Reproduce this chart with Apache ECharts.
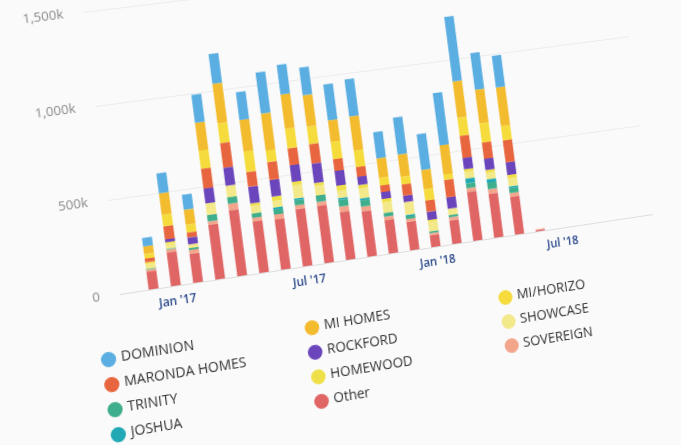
<!DOCTYPE html>
<html>
<head>
<meta charset="utf-8">
<title>Builder volume</title>
<script src="https://cdn.jsdelivr.net/npm/echarts@6/dist/echarts.min.js"></script>
<style>
  html, body { margin: 0; padding: 0; width: 681px; height: 445px; overflow: hidden; background: #fafafa; }
  /* photo is taken at an angle: skew + a little perspective */
  #chart {
    position: absolute; left: 0; top: 0; width: 760px; height: 460px;
    transform-origin: 120px 294px;
    transform: matrix3d(1, -0.15, 0, 0.0001, 0.13, 1, 0, 0, 0, 0, 1, 0, 0, 0, 0, 1);
  }
</style>
</head>
<body>
<div id="chart"></div>
<script>
// months Nov '16 .. Nov '18
const months = ["Nov '16", "Dec '16", "Jan '17", "Feb '17", "Mar '17", "Apr '17", "May '17", "Jun '17",
  "Jul '17", "Aug '17", "Sep '17", "Oct '17", "Nov '17", "Dec '17", "Jan '18", "Feb '18", "Mar '18",
  "Apr '18", "May '18", "Jun '18", "Jul '18", "Aug '18", "Sep '18", "Oct '18", "Nov '18"];

// values in thousands
const other     = [0, 95, 180, 156, 293, 355, 277, 271, 310, 312, 260, 248, 181, 156, 65, 130, 270, 243, 210, 8, 0, 0, 0, 0, 0];
const sovereign = [0, 10, 15, 20, 19, 35, 20, 27, 21, 20, 30, 25, 20, 15, 12, 17, 20, 25, 20, 4, 0, 0, 0, 0, 0];
const trinity   = [0, 5, 5, 10, 35, 35, 25, 27, 27, 35, 37, 35, 21, 15, 10, 12, 27, 35, 27, 0, 0, 0, 0, 0, 0];
const joshua    = [0, 0, 0, 0, 0, 0, 0, 10, 10, 0, 10, 10, 0, 8, 0, 0, 27, 20, 10, 0, 0, 0, 0, 0, 0];
const showcase  = [0, 25, 25, 20, 62, 62, 40, 35, 70, 53, 37, 53, 57, 70, 53, 35, 35, 35, 43, 0, 0, 0, 0, 0, 0];
const homewood  = [0, 10, 10, 0, 0, 0, 13, 25, 20, 15, 30, 20, 19, 0, 9, 0, 16, 16, 20, 0, 0, 0, 0, 0, 0];
const rockford  = [0, 0, 15, 37, 80, 97, 90, 90, 90, 106, 80, 45, 37, 35, 45, 62, 62, 62, 70, 0, 0, 0, 0, 0, 0];
const maronda   = [0, 20, 70, 27, 106, 133, 80, 97, 92, 106, 64, 53, 37, 62, 62, 97, 122, 90, 122, 0, 0, 0, 0, 0, 0];
const miHorizo  = [0, 25, 62, 42, 97, 106, 110, 62, 106, 95, 95, 90, 42, 42, 62, 30, 100, 106, 80, 0, 0, 0, 0, 0, 0];
const miHomes   = [0, 40, 115, 80, 150, 213, 170, 200, 186, 170, 117, 186, 106, 122, 106, 160, 200, 186, 213, 0, 0, 0, 0, 0, 0];
const dominion  = [0, 45, 106, 80, 150, 160, 150, 222, 160, 150, 195, 202, 143, 202, 196, 287, 356, 202, 175, 0, 0, 0, 0, 0, 0];

const yTicks = [0, 500, 1000, 1500];

// stack order, bottom first
const stack = [
  { name: 'Other', data: other, color: '#e06666' },
  { name: 'SOVEREIGN', data: sovereign, color: '#f2a58a' },
  { name: 'TRINITY', data: trinity, color: '#3fae8c' },
  { name: 'JOSHUA', data: joshua, color: '#20a9b5' },
  { name: 'SHOWCASE', data: showcase, color: '#f3e98a' },
  { name: 'HOMEWOOD', data: homewood, color: '#efe04a' },
  { name: 'ROCKFORD', data: rockford, color: '#6b45bb' },
  { name: 'MARONDA HOMES', data: maronda, color: '#e8663f' },
  { name: 'MI/HORIZO', data: miHorizo, color: '#f5dc3c' },
  { name: 'MI HOMES', data: miHomes, color: '#f3bb2e' },
  { name: 'DOMINION', data: dominion, color: '#5aaee2' }
];

const legendCols = [
  ['DOMINION', 'MARONDA HOMES', 'TRINITY', 'JOSHUA'],
  ['MI HOMES', 'ROCKFORD', 'HOMEWOOD', 'Other'],
  ['MI/HORIZO', 'SHOWCASE', 'SOVEREIGN']
];
const legendLeft = [88, 295, 500];

const myChart = echarts.init(document.getElementById('chart'), null, { renderer: 'canvas' });
const option = {
  animation: false,
  textStyle: { fontFamily: 'Open Sans' },
  grid: { left: 120, top: 12, width: 562.5, height: 282 },
  legend: legendCols.map((col, i) => ({
    data: col,
    orient: 'vertical',
    left: legendLeft[i],
    top: 344,
    icon: 'circle',
    itemWidth: 15,
    itemHeight: 15,
    itemGap: 10,
    selectedMode: false,
    textStyle: { fontSize: 14, color: '#333333', fontFamily: 'Open Sans' }
  })),
  xAxis: {
    type: 'category',
    data: months,
    axisTick: { show: false },
    axisLine: { lineStyle: { color: '#dddddd' } },
    axisLabel: {
      interval: (idx, val) => val.startsWith('Jan') || val.startsWith('Jul'),
      color: '#2b4a8b',
      fontWeight: 600,
      fontSize: 12,
      margin: 10
    }
  },
  yAxis: {
    type: 'value',
    min: yTicks[0],
    max: yTicks[yTicks.length - 1],
    interval: yTicks[1] - yTicks[0],
    axisLine: { show: false },
    axisTick: { show: false },
    splitLine: { lineStyle: { color: '#ececec' } },
    axisLabel: {
      color: '#8a8a8a',
      fontSize: 13,
      margin: 20,
      formatter: v => (v === 0 ? '0' : v.toLocaleString('en-US') + 'k')
    }
  },
  series: stack.map(s => ({
    name: s.name,
    type: 'bar',
    stack: 'total',
    barWidth: 10,
    data: s.data,
    itemStyle: { color: s.color }
  }))
};
myChart.setOption(option);
</script>
</body>
</html>
